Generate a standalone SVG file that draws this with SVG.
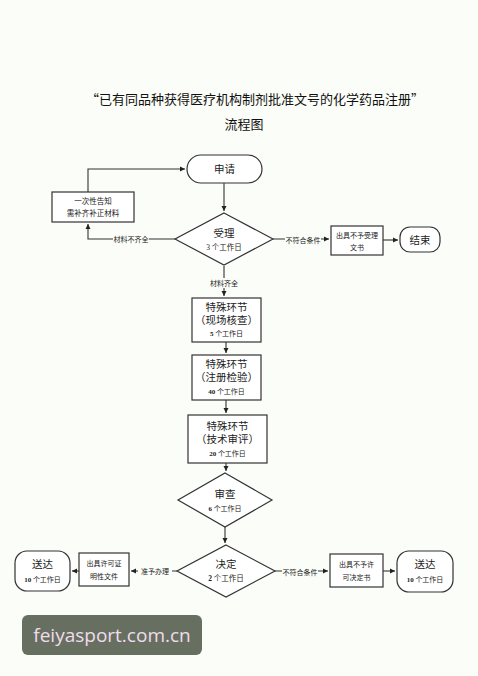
<svg xmlns="http://www.w3.org/2000/svg" width="478" height="676" viewBox="0 0 478 676">
<style>
text{font-family:"Liberation Serif","Noto Sans CJK SC",serif;fill:#222;text-anchor:middle}
.t{font-family:"Noto Sans CJK SC",sans-serif;font-size:13px;fill:#111}
.n{font-size:10.5px}
.s{font-size:7.5px}
.l{font-size:7px}
.b{font-weight:bold}
.sh{fill:#fff;stroke:#333;stroke-width:1.2}
.c{fill:none;stroke:#333;stroke-width:1.1}
</style>
<defs>
<marker id="a" markerWidth="6" markerHeight="6" refX="5" refY="3" orient="auto" markerUnits="userSpaceOnUse">
<path d="M0,0.5 L5,3 L0,5.5 Z" fill="#222"/>
</marker>
</defs>
<rect width="478" height="676" fill="#fbfdf8"/>
<g id="title">
<text class="t" x="255" y="104">“已有同品种获得医疗机构制剂批准文号的化学药品注册”</text>
<text class="t" x="244" y="129">流程图</text>
</g>
<g id="connectors">
<path class="c" d="M224,183 V211" marker-end="url(#a)"/>
<path class="c" d="M175,239 H88 V224" marker-end="url(#a)"/>
<path class="c" d="M88,192 V169 H185" marker-end="url(#a)"/>
<path class="c" d="M273,239 H329" marker-end="url(#a)"/>
<path class="c" d="M383,240 H398" marker-end="url(#a)"/>
<path class="c" d="M224,266 V296" marker-end="url(#a)"/>
<path class="c" d="M226,342 V353" marker-end="url(#a)"/>
<path class="c" d="M226,400 V413" marker-end="url(#a)"/>
<path class="c" d="M226,463 V471" marker-end="url(#a)"/>
<path class="c" d="M225,527 V543" marker-end="url(#a)"/>
<path class="c" d="M177,571 H131" marker-end="url(#a)"/>
<path class="c" d="M79,571 H72" marker-end="url(#a)"/>
<path class="c" d="M275,571 H328" marker-end="url(#a)"/>
<path class="c" d="M383,571 H395" marker-end="url(#a)"/>
<rect x="113" y="234" width="36" height="10" fill="#fbfdf8"/>
<text class="l" x="131" y="242">材料不齐全</text>
<rect x="285" y="235" width="36" height="10" fill="#fbfdf8"/>
<text class="l" x="303" y="243">不符合条件</text>
<rect x="208" y="278" width="32" height="10" fill="#fbfdf8"/>
<text class="l" x="224" y="286">材料齐全</text>
<rect x="138" y="566" width="34" height="10" fill="#fbfdf8"/>
<text class="l" x="155" y="574">准予办理</text>
<rect x="282" y="567" width="36" height="10" fill="#fbfdf8"/>
<text class="l" x="300" y="575">不符合条件</text>
</g>
<g id="apply">
<rect class="sh" x="187" y="155" width="75" height="28" rx="14"/>
<text class="n" x="224.5" y="173">申请</text>
</g>
<g id="notify">
<rect class="sh" x="52" y="192" width="82" height="30"/>
<text class="s" x="93" y="204">一次性告知</text>
<text class="s" x="93" y="216">需补齐补正材料</text>
</g>
<g id="accept">
<polygon class="sh" points="224,213 273,239 224,265 175,239"/>
<text class="n" x="224" y="237">受理</text>
<text class="s" x="224" y="250">3 个工作日</text>
</g>
<g id="reject1">
<rect class="sh" x="331" y="226" width="52" height="29"/>
<text class="l" x="357" y="238">出具不予受理</text>
<text class="l" x="357" y="250">文书</text>
</g>
<g id="end">
<rect class="sh" x="400" y="227" width="40" height="25" rx="10"/>
<text class="n" x="420" y="243.5">结束</text>
</g>
<g id="special1">
<rect class="sh" x="192" y="298" width="69" height="44"/>
<text class="n" x="226.5" y="311">特殊环节</text>
<text class="n" x="226.5" y="324">（现场核查）</text>
<text class="l" x="226.5" y="336"><tspan class="b">5</tspan> 个工作日</text>
</g>
<g id="special2">
<rect class="sh" x="192" y="355" width="69" height="45"/>
<text class="n" x="226.5" y="368">特殊环节</text>
<text class="n" x="226.5" y="381">（注册检验）</text>
<text class="l" x="226.5" y="394"><tspan class="b">40</tspan> 个工作日</text>
</g>
<g id="special3">
<rect class="sh" x="188" y="415" width="79" height="48"/>
<text class="n" x="227.5" y="430">特殊环节</text>
<text class="n" x="227.5" y="443">（技术审评）</text>
<text class="l" x="227.5" y="456"><tspan class="b">20</tspan> 个工作日</text>
</g>
<g id="review">
<polygon class="sh" points="225,473 272,500 225,527 178,500"/>
<text class="n" x="225" y="498">审查</text>
<text class="l" x="225" y="511"><tspan class="b">6</tspan> 个工作日</text>
</g>
<g id="decide">
<polygon class="sh" points="226,545 275,571 226,597 177,571"/>
<text class="n" x="226" y="568">决定</text>
<text class="s" x="226" y="581"><tspan class="b">2</tspan> 个工作日</text>
</g>
<g id="permit">
<rect class="sh" x="79" y="553" width="50" height="33"/>
<text class="l" x="104" y="566">出具许可证</text>
<text class="l" x="104" y="579">明性文件</text>
</g>
<g id="deliver1">
<rect class="sh" x="15" y="551" width="55" height="40" rx="12"/>
<text class="n" x="42.5" y="568">送达</text>
<text class="l" x="42.5" y="582"><tspan class="b">10</tspan> 个工作日</text>
</g>
<g id="reject2">
<rect class="sh" x="330" y="554" width="53" height="33"/>
<text class="l" x="356.5" y="567">出具不予许</text>
<text class="l" x="356.5" y="580">可决定书</text>
</g>
<g id="deliver2">
<rect class="sh" x="397" y="551" width="56" height="41" rx="12"/>
<text class="n" x="425" y="568">送达</text>
<text class="l" x="425" y="582"><tspan class="b">10</tspan> 个工作日</text>
</g>
<g id="watermark">
<rect x="22" y="615" width="180" height="40" rx="6" fill="#677060"/>
<text x="112" y="642" style="font-family:'Open Sans','Noto Sans',sans-serif;font-size:19px;fill:#f0dcee">feiyasport.com.cn</text>
</g>
</svg>
